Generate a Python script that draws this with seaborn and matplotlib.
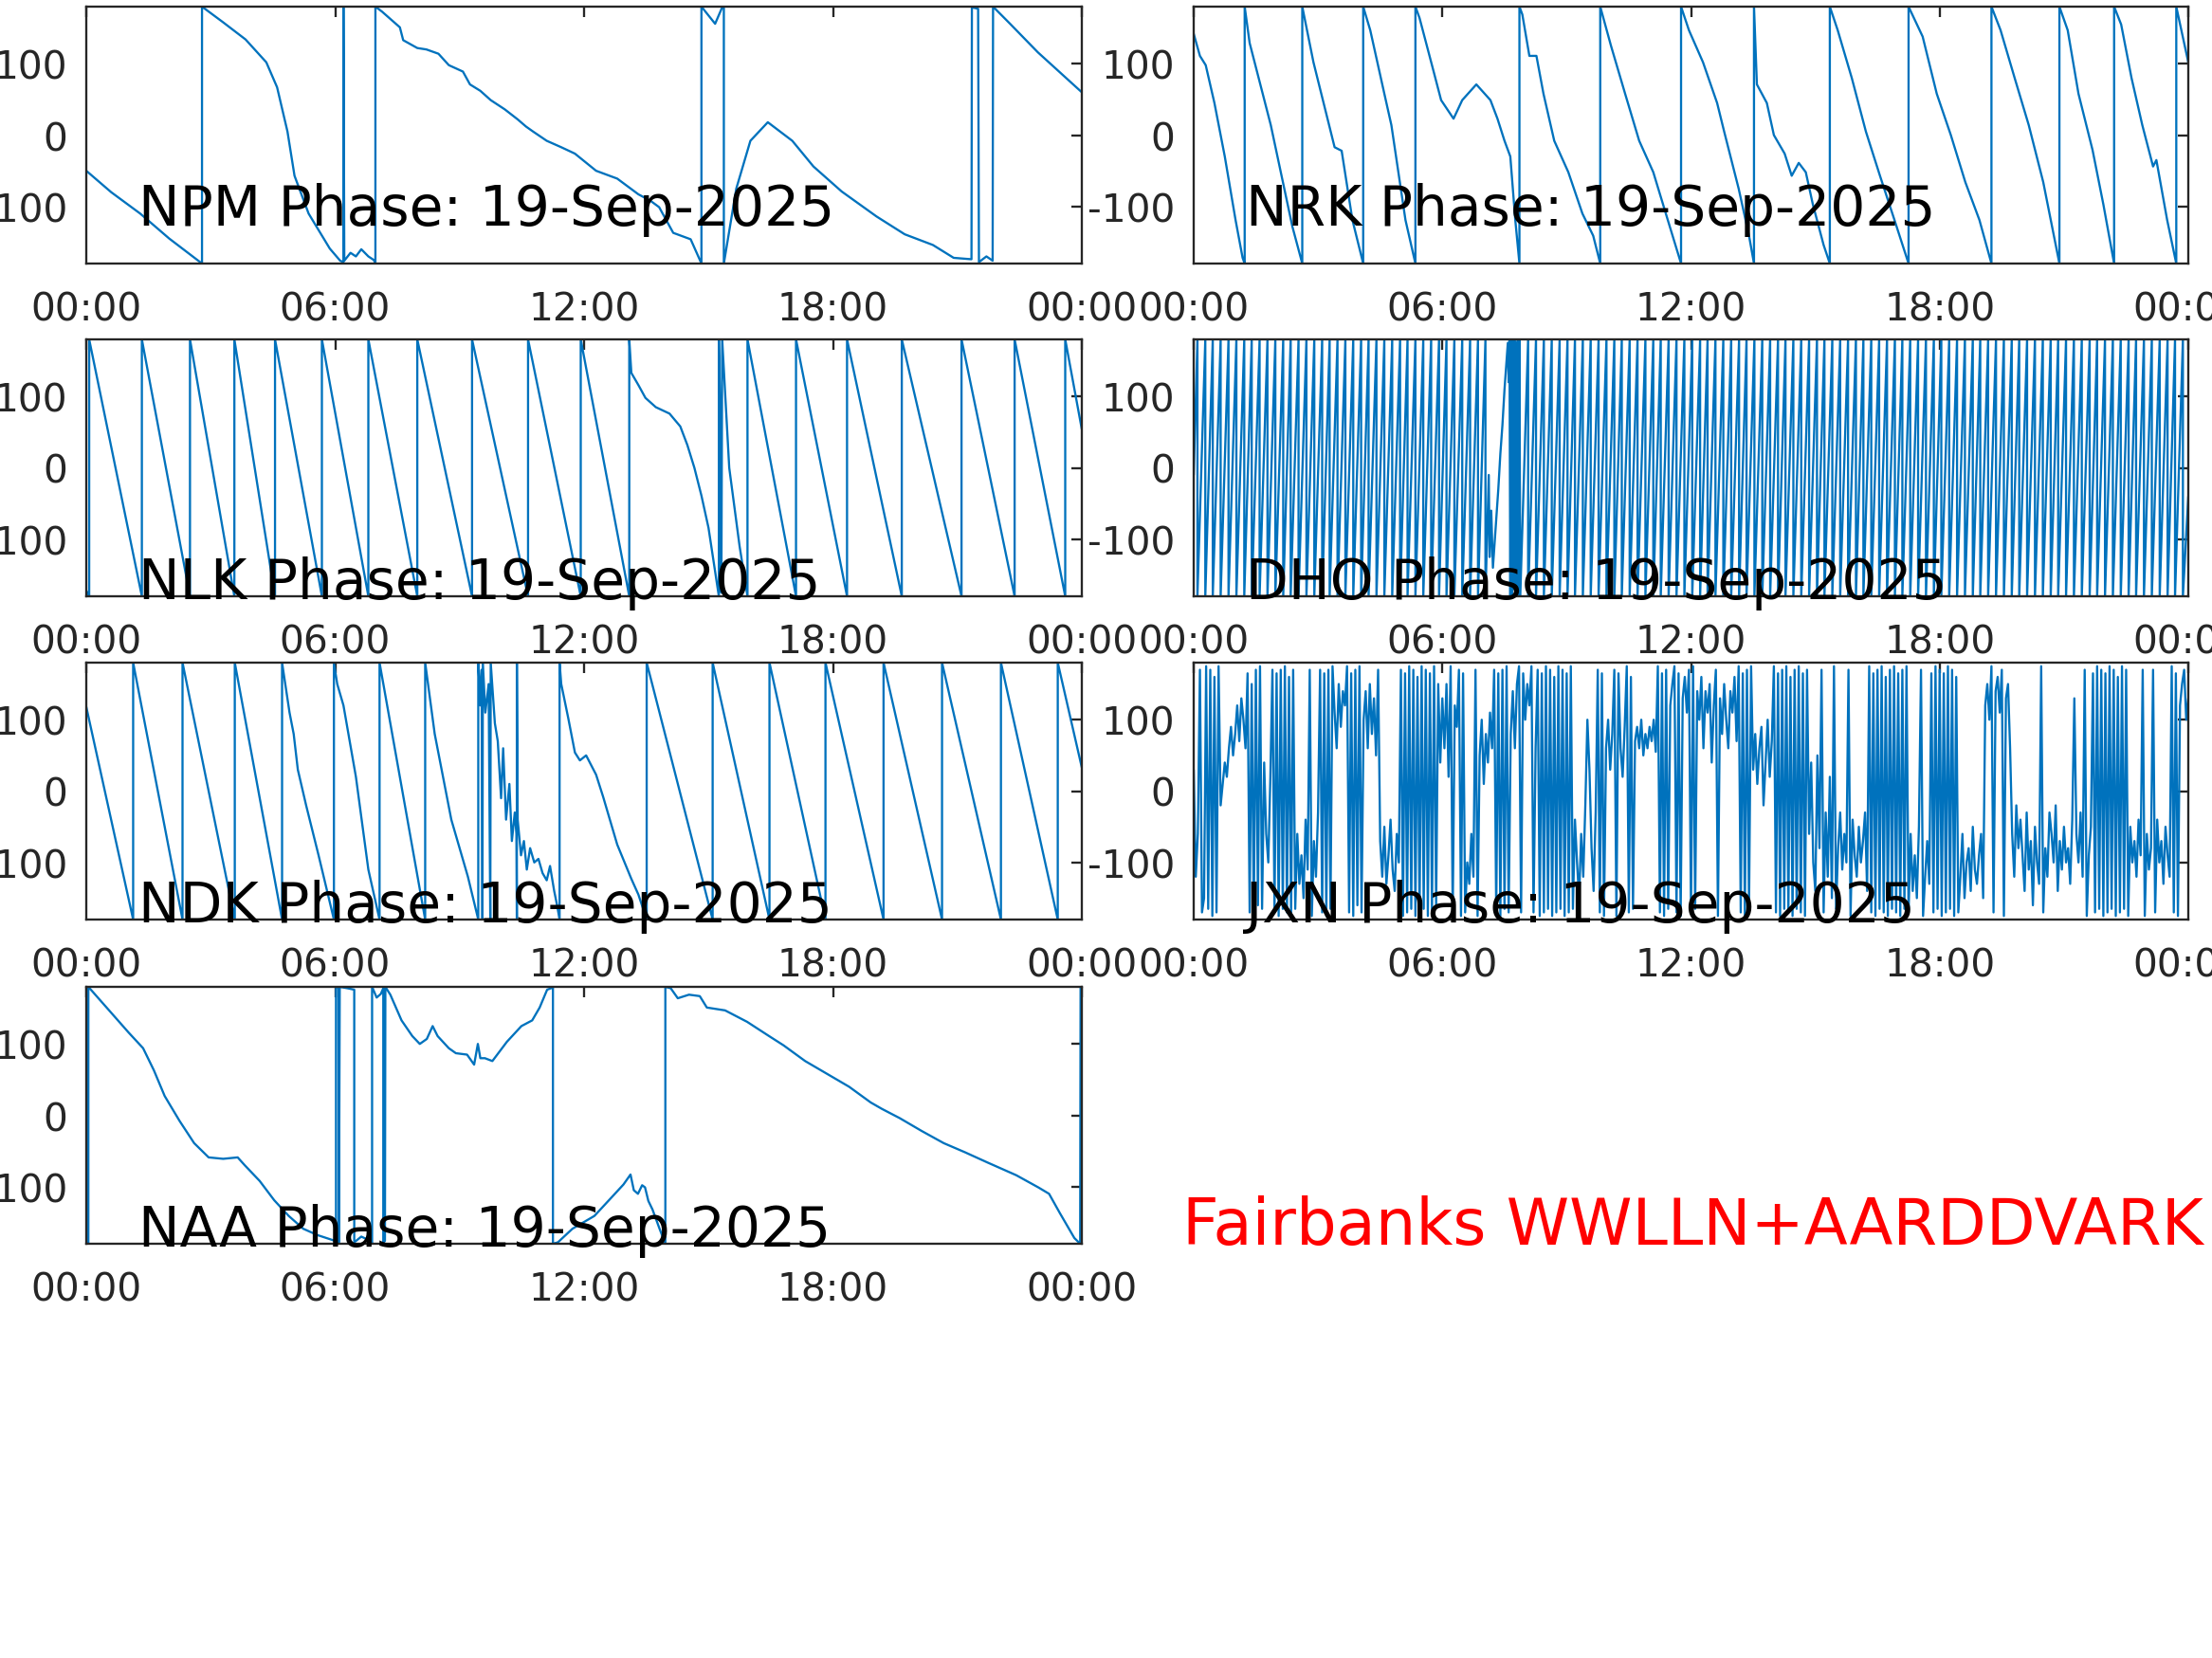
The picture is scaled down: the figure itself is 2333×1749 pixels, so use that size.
import numpy as np
import pandas as pd
import matplotlib
matplotlib.use("Agg")
import matplotlib.pyplot as plt
import seaborn as sns

sns.set_theme(style="white")
plt.rcParams['font.family'] = ['DejaVu Sans']

# ---------------- data (hour of day, phase in degrees) ----------------
hour_ticks = [0, 6, 12, 18, 24]
hour_labels = ["00:00", "06:00", "12:00", "18:00", "00:00"]
phase_ticks = [-100, 0, 100]
phase_labels = ["-100", "0", "100"]
date_label = "19-Sep-2025"

npm_points = [(0.0, -50), (0.6, -80), (1.3, -110), (2.0, -145), (2.79, -180), (2.79, 180),
              (3.3, 158), (3.84, 134), (4.34, 102), (4.60, 67), (4.85, 5), (5.02, -57),
              (5.36, -110), (5.87, -159), (6.12, -176), (6.20, -178), (6.20, 179), (6.22, -176),
              (6.37, -165), (6.5, -170), (6.63, -160), (6.8, -170), (6.93, -175), (6.97, -179),
              (6.97, 180), (7.13, 173), (7.56, 151), (7.64, 133), (7.98, 122), (8.2, 120),
              (8.49, 114), (8.74, 98), (9.08, 89), (9.25, 71), (9.5, 62), (9.75, 49), (10.09, 36),
              (10.4, 22), (10.6, 12), (10.77, 5), (11.1, -8), (11.45, -17), (11.78, -26), (12.29, -50),
              (12.80, -61), (13.31, -83), (13.6, -92), (13.81, -101), (14.15, -137), (14.57, -146),
              (14.83, -180), (14.83, 180), (15.16, 156), (15.33, 179), (15.37, 180),
              (15.37, -180), (15.67, -75), (16.01, -8), (16.43, 18), (17.02, -8), (17.53, -44),
              (18.21, -79), (19.05, -114), (19.73, -139), (20.41, -154), (20.91, -172),
              (21.34, -174), (21.35, 179), (21.50, 177), (21.52, -178), (21.7, -170),
              (21.85, -176), (21.86, 180), (22.27, 156), (22.94, 116), (24.0, 60)]

nrk_points = [(0.0, 142), (0.15, 111), (0.29, 98), (0.50, 45), (0.75, -30), (1.01, -119),
              (1.18, -172), (1.23, -180), (1.23, 180), (1.35, 129), (1.86, 14), (2.38, -128),
              (2.62, -180), (2.62, 180), (2.89, 102), (3.40, -17), (3.57, -22), (3.83, -119),
              (4.09, -180), (4.09, 180), (4.26, 147), (4.60, 58), (4.77, 14), (5.11, -119),
              (5.35, -180), (5.35, 180), (5.45, 164), (5.79, 89), (5.97, 49), (6.27, 23),
              (6.48, 49), (6.82, 71), (7.16, 49), (7.33, 23), (7.50, -8), (7.64, -30),
              (7.76, -119), (7.86, -180), (7.86, 180), (7.93, 169), (8.10, 111), (8.27, 111),
              (8.44, 58), (8.70, -8), (9.04, -52), (9.38, -110), (9.64, -141), (9.81, -180),
              (9.81, 180), (10.07, 125), (10.41, 58), (10.75, -8), (11.09, -52), (11.44, -119),
              (11.76, -180), (11.76, 180), (11.95, 147), (12.29, 102), (12.63, 45), (12.80, 5),
              (13.15, -75), (13.40, -141), (13.52, -180), (13.52, 180), (13.59, 71), (13.83, 45),
              (14.0, 0), (14.26, -26), (14.43, -57), (14.60, -39), (14.77, -52), (14.94, -97),
              (15.20, -154), (15.35, -180), (15.35, 180), (15.54, 147), (15.88, 80), (16.22, 5),
              (16.56, -57), (16.91, -119), (17.25, -180), (17.25, 180), (17.59, 138), (17.93, 58),
              (18.27, 0), (18.62, -66), (18.96, -119), (19.25, -180), (19.25, 180), (19.47, 147),
              (19.81, 80), (20.15, 14), (20.50, -66), (20.89, -180), (20.89, 180), (21.09, 147),
              (21.35, 58), (21.69, -21), (21.95, -97), (22.21, -180), (22.21, 180), (22.38, 155),
              (22.63, 80), (22.89, 14), (23.15, -44), (23.23, -35), (23.49, -119), (23.71, -180),
              (23.71, 180), (24.0, 102)]

nlk_points = [(0.0, -172), (0.07, -180), (0.07, 180), (1.34, -180), (1.34, 180), (2.50, -180),
              (2.50, 180), (3.57, -180), (3.57, 180), (4.55, -180), (4.55, 180), (5.68, -180),
              (5.68, 180), (6.80, -180), (6.80, 180), (7.98, -180), (7.98, 180), (9.30, -180),
              (9.30, 180), (10.65, -180), (10.65, 180), (11.92, -180), (11.92, 180), (13.09, -180),
              (13.09, 180), (13.14, 133), (13.31, 116), (13.48, 98), (13.73, 85), (14.06, 76),
              (14.32, 58), (14.49, 32), (14.66, 0), (14.83, -39), (15.00, -84), (15.25, -180),
              (15.25, 180), (15.29, 40), (15.31, -175), (15.33, 180), (15.50, 0), (15.75, -110),
              (15.94, -180), (15.94, 180), (17.11, -180), (17.11, 180), (18.34, -180), (18.34, 180),
              (19.66, -180), (19.66, 180), (21.10, -180), (21.10, 180), (22.38, -180), (22.38, 180),
              (23.60, -180), (23.60, 180), (24.0, 54)]

ndk_points = [(0.0, 118), (1.13, -180), (1.13, 180), (2.32, -180), (2.32, 180), (3.58, -180),
              (3.58, 180), (4.72, -180), (4.72, 180), (4.9, 110), (5.0, 80), (5.1, 30), (5.3, -20),
              (5.6, -90), (5.97, -180), (5.97, 180), (6.05, 150), (6.2, 120), (6.5, 20), (6.8, -110),
              (7.07, -180), (7.07, 180), (8.17, -180), (8.17, 180), (8.4, 80), (8.8, -40),
              (9.2, -120), (9.45, -180), (9.45, 180), (9.50, 120), (9.53, 170), (9.55, -180),
              (9.56, 180), (9.62, 110), (9.70, 150), (9.74, -180), (9.75, 180), (9.85, 95),
              (9.92, 70), (10.0, -10), (10.05, 60), (10.12, -40), (10.20, 10), (10.26, -70),
              (10.33, -30), (10.37, -60), (10.38, -180), (10.38, 180), (10.40, -40), (10.48, -90),
              (10.55, -70), (10.62, -110), (10.70, -80), (10.80, -100), (10.90, -95),
              (11.00, -115), (11.10, -125), (11.18, -105), (11.28, -140), (11.35, -160),
              (11.41, -180), (11.41, 180), (11.45, 150), (11.62, 102), (11.78, 54), (11.9, 43),
              (12.05, 50), (12.29, 23), (12.46, -8), (12.80, -75), (13.14, -123), (13.31, -145),
              (13.51, -180), (13.51, 180), (15.10, -180), (15.10, 180), (16.47, -180),
              (16.47, 180), (17.82, -180), (17.82, 180), (19.22, -180), (19.22, 180),
              (20.63, -180), (20.63, 180), (22.05, -180), (22.05, 180), (23.42, -180),
              (23.42, 180), (24.0, 33)]

naa_points = [(0.0, -178), (0.05, -180), (0.05, 180), (0.49, 151), (1.02, 116), (1.37, 94),
              (1.63, 63), (1.89, 27), (2.25, -8), (2.60, -39), (2.95, -59), (3.30, -61),
              (3.65, -59), (3.82, -70), (4.18, -92), (4.53, -119), (4.88, -141), (5.23, -159),
              (5.58, -168), (6.00, -176), (6.02, -178), (6.02, 180), (6.08, 179), (6.09, -178),
              (6.11, 180), (6.30, 178), (6.46, 176), (6.46, -178), (6.63, -170), (6.85, -176),
              (6.89, -179), (6.89, 180), (7.0, 165), (7.1, 170), (7.16, 178), (7.16, -178),
              (7.20, -176), (7.21, 180), (7.33, 169), (7.60, 133), (7.86, 111), (8.04, 100),
              (8.21, 107), (8.35, 125), (8.47, 111), (8.74, 94), (8.91, 87), (9.18, 85),
              (9.35, 71), (9.44, 100), (9.50, 80), (9.61, 80), (9.79, 76), (10.14, 103),
              (10.49, 125), (10.75, 133), (10.93, 151), (11.11, 176), (11.25, 179), (11.25, -180),
              (11.37, -178), (11.72, -159), (12.25, -141), (12.68, -114), (12.95, -97),
              (13.12, -83), (13.20, -105), (13.30, -110), (13.40, -98), (13.47, -101),
              (13.55, -120), (13.65, -132), (13.82, -159), (13.96, -180), (13.96, 180),
              (14.09, 178), (14.26, 164), (14.53, 169), (14.79, 167), (14.96, 151), (15.40, 147),
              (15.93, 131), (16.46, 111), (16.81, 98), (17.33, 76), (17.86, 58), (18.39, 40),
              (18.91, 18), (19.18, 9), (19.61, -4), (20.14, -22), (20.67, -39), (21.19, -52),
              (21.72, -66), (22.42, -84), (22.95, -101), (23.21, -110), (23.47, -137),
              (23.82, -172), (23.96, -180), (23.97, 180), (24.0, 178)]

# DHO: times (h) at which the rising phase wraps from +180 back to -180
dho_start_phase = -10
dho_wraps_early = [0.09, 0.28, 0.46, 0.65, 0.84, 1.03, 1.22, 1.40, 1.59, 1.78, 1.97, 2.16,
                   2.34, 2.53, 2.72, 2.91, 3.10, 3.28, 3.47, 3.66, 3.85, 4.04, 4.22, 4.41,
                   4.60, 4.79, 4.98, 5.16, 5.35, 5.54, 5.73, 5.92, 6.10, 6.29, 6.48, 6.67,
                   6.86, 7.04]
dho_disturbance = [(7.12, -10), (7.14, -125), (7.18, -60), (7.22, -140), (7.28, -90),
                   (7.35, -30), (7.40, 20), (7.45, 60), (7.50, 110), (7.55, 150), (7.58, 175),
                   (7.60, 120), (7.62, 180), (7.64, -180), (7.66, 180), (7.68, -180),
                   (7.70, 180), (7.72, -170), (7.74, 180), (7.76, -180), (7.78, 175),
                   (7.80, -180), (7.82, 180), (7.84, -180), (7.86, 180), (7.88, -180)]
dho_wraps_late = [8.07, 8.26, 8.45, 8.64, 8.83, 9.02, 9.20, 9.39, 9.58, 9.77, 9.96, 10.15,
                  10.33, 10.52, 10.71, 10.90, 11.09, 11.27, 11.46, 11.65, 11.84, 12.03, 12.22,
                  12.40, 12.59, 12.78, 12.97, 13.16, 13.34, 13.53, 13.72, 13.91, 14.10, 14.28,
                  14.47, 14.66, 14.85, 15.04, 15.22, 15.41, 15.60, 15.79, 15.98, 16.16, 16.35,
                  16.54, 16.73, 16.92, 17.10, 17.29, 17.48, 17.67, 17.86, 18.04, 18.23, 18.42,
                  18.61, 18.80, 18.98, 19.17, 19.36, 19.55, 19.74, 19.92, 20.11, 20.30, 20.49,
                  20.68, 20.86, 21.05, 21.24, 21.43, 21.62, 21.80, 21.99, 22.18, 22.37, 22.56,
                  22.74, 22.93, 23.12, 23.31, 23.50, 23.68, 23.87]
dho_end_phase = -40

# JXN: phase sampled every 0.05 h (20 values per hour)
jxn_step_hours = 0.05
jxn_phase = [
    30, -120, -60, 170, -170, -150, 175, -165, 170, -175, 160, -170, 175, -20, 10, 40, 20, 60, 90, 50,
    80, 120, 70, 130, 100, 60, 165, -170, 150, -175, 170, -160, 175, -165, 40, -60, -100, 20, 170, -170,
    165, -175, 170, -165, 175, -170, 160, -175, 170, -165, -60, -130, -90, -150, -40, -110, 170, -175, -70, -120,
    -30, 170, -170, 165, -175, 170, -165, 175, 110, 60, 150, 90, 140, 120, 175, -170, 165, -175, 170, -160,
    175, -170, 100, 140, 60, 150, 80, 130, 50, 170, -70, -120, -50, -130, -90, -40, -110, -140, -60, -100,
    170, -175, 165, -170, 175, -165, 170, -175, 160, -170, 175, -165, 170, -175, 165, -170, 175, -160, 150, 40,
    130, 60, 150, 20, 175, -170, 120, 90, 170, -175, 165, -170, -100, -130, -60, -120, 170, -175, 50, 100,
    10, 80, 40, 110, 60, 170, -170, 165, -175, 170, -165, 175, -170, 80, 140, 60, 150, 175, -170, 165,
    100, 150, 120, 175, -170, 60, 170, -175, 165, -170, 175, -165, 170, -175, 160, -170, 175, -165, 170, -175,
    165, -170, 175, -165, -40, -100, -150, -60, -120, -20, 100, 30, -80, -140, -30, 170, -170, 165, -175, 60,
    100, 30, 80, 170, -175, 165, 60, 20, 90, 175, -170, 160, -165, 70, 90, 60, 100, 50, 80, 60,
    90, 70, 100, 55, 175, -170, 165, -175, 170, -165, 120, 150, 175, -170, 165, -175, 130, 160, 110, 170,
    -170, 175, -165, 140, 100, 160, 60, 140, 110, 150, 40, 120, 170, -175, 130, 80, 150, 100, 60, 140,
    110, 160, 70, 175, -170, 165, -175, 170, -165, 175, 30, 80, 10, 60, 90, -20, 40, 100, 20, 70,
    175, -170, 165, -175, 170, -165, 175, -170, 160, -175, 170, -165, 175, -170, 165, -175, 170, -60, 40, -100,
    -140, 50, -80, 170, -170, -30, -120, 20, -150, 175, -165, -80, -30, -110, -60, -100, 170, -175, -40, -90,
    -120, -50, -100, -70, -30, -140, 175, -170, 165, -175, 170, -165, 175, -170, 160, -175, 170, -165, 175, -170,
    165, -175, 170, -165, 175, -170, -60, -140, -90, -150, -50, 170, -175, -120, -70, -130, 165, -170, 175, -165,
    170, -175, 165, -170, 175, -165, 170, -175, 160, -170, -120, -60, -150, -100, -80, -140, -50, -110, -130, -90,
    -60, -150, 120, 150, 100, 175, -170, 140, 160, 110, 170, -175, 130, 150, 60, -60, -120, -20, -80, -40,
    -90, -140, -30, -110, -70, -160, -50, -100, -130, 175, -170, -80, -120, -30, -60, -100, -20, -140, -70, -110,
    -50, -100, -80, -130, -40, 130, -60, -100, -30, -120, 170, -175, -90, -50, 165, -170, 175, -165, 170, -175,
    165, -170, 175, -165, 170, -175, 160, -170, 175, -165, 170, -175, -50, -100, -70, -120, -40, -90, 170, -175,
    -60, -110, -80, 170, -170, -40, -100, -70, -130, -50, -90, -120, 175, -170, 165, -175, 120, 150, 170, 100,
    130]

stations = ["NPM", "NRK", "NLK", "DHO", "NDK", "JXN", "NAA"]
footer_text = "Fairbanks WWLLN+AARDDVARK"

# ---------------- build frames ----------------
def pts_frame(points):
    return pd.DataFrame(points, columns=["hour", "phase"])

def dho_frame():
    t = [0.0]
    p = [dho_start_phase]
    for w in dho_wraps_early:
        t += [w, w]
        p += [180, -180]
    for (ti, pi) in dho_disturbance:
        t.append(ti)
        p.append(pi)
    for w in dho_wraps_late:
        t += [w, w]
        p += [180, -180]
    t.append(24.0)
    p.append(dho_end_phase)
    return pd.DataFrame({"hour": t, "phase": p})

def jxn_frame():
    hours = np.arange(len(jxn_phase)) * jxn_step_hours
    return pd.DataFrame({"hour": hours, "phase": jxn_phase})

frames = {
    "NPM": pts_frame(npm_points),
    "NRK": pts_frame(nrk_points),
    "NLK": pts_frame(nlk_points),
    "DHO": dho_frame(),
    "NDK": pts_frame(ndk_points),
    "JXN": jxn_frame(),
    "NAA": pts_frame(naa_points),
}

# ---------------- figure ----------------
W, H = 2333, 1750
DPI = 333.333
fig = plt.figure(figsize=(W / DPI, H / DPI), dpi=DPI)

col_left = [91 / W, 1259 / W]
col_width = [1050 / W, 1049 / W]
row_top_px = [8, 359, 700, 1042]
ax_h_px = 271

LINE_BLUE = "#0072BD"
DARK = "#262626"
text_y = {"NPM": -125.5, "NRK": -125.5}

for i, st in enumerate(stations):
    r, c = divmod(i, 2)
    bottom = 1 - (row_top_px[r] + ax_h_px) / H
    ax = fig.add_axes([col_left[c], bottom, col_width[c], ax_h_px / H])
    sns.lineplot(data=frames[st], x="hour", y="phase", sort=False, estimator=None,
                 ax=ax, color=LINE_BLUE, linewidth=0.5)
    ax.set_xlim(0, 24)
    ax.set_ylim(-180, 180)
    ax.set_xticks(hour_ticks)
    ax.set_xticklabels(hour_labels)
    ax.set_yticks(phase_ticks)
    ax.set_yticklabels(phase_labels)
    ax.set_xlabel("")
    ax.set_ylabel("")
    for sp in ax.spines.values():
        sp.set_color(DARK)
        sp.set_linewidth(0.5)
        sp.set_visible(True)
    ax.tick_params(direction="in", top=True, right=True, length=2.4, width=0.5,
                   colors=DARK, labelcolor=DARK, labelsize=8.8)
    ax.tick_params(axis="x", pad=6.2)
    ax.tick_params(axis="y", pad=4.3)
    ax.text(1.25, text_y.get(st, -183), f"{st} Phase: {date_label}", fontsize=12.6,
            color="black", va="baseline", ha="left", zorder=5)

fig.text(1247 / W, 1 - 1313 / H, footer_text, color="red", fontsize=14.5,
         va="baseline", ha="left")

fig.savefig("out.png", dpi=DPI, facecolor="white")
